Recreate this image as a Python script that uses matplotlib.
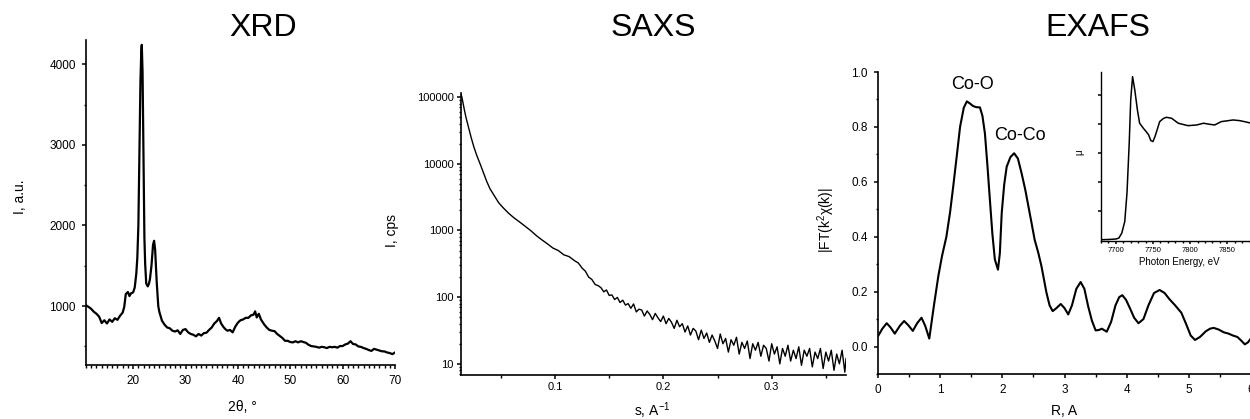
import matplotlib
matplotlib.use("Agg")
import matplotlib.pyplot as plt
from matplotlib.ticker import MultipleLocator, FixedLocator, FixedFormatter, NullFormatter, LogLocator

plt.rcParams['font.family'] = ['Liberation Sans', 'DejaVu Sans']
plt.rcParams['mathtext.default'] = 'regular'

# XRD pattern
xrd_2theta = [11.0, 11.5, 12.0, 12.5, 13.0, 13.5, 14.0, 14.5, 15.0, 15.5, 16.0, 16.5, 17.0, 17.5,
              18.0, 18.3, 18.6, 19.0, 19.3, 19.6, 20.0, 20.3, 20.6, 20.8, 21.0, 21.2, 21.4, 21.55,
              21.65, 21.8, 22.0, 22.15, 22.3, 22.5, 22.8, 23.0, 23.2, 23.5, 23.8, 24.0, 24.2, 24.5,
              24.8, 25.0, 25.5, 26.0, 26.5, 27.0, 27.5, 28.0, 28.5, 29.0, 29.5, 30.0, 30.5, 31.0,
              31.5, 32.0, 32.5, 33.0, 33.5, 34.0, 34.5, 35.0, 35.5, 36.0, 36.4, 36.8, 37.2, 37.6,
              38.0, 38.5, 39.0, 39.5, 40.0, 40.5, 41.0, 41.5, 42.0, 42.5, 43.0, 43.3, 43.6, 44.0,
              44.4, 45.0, 45.5, 46.0, 46.5, 47.0, 47.5, 48.0, 48.5, 49.0, 49.5, 50.0, 50.5, 51.0,
              51.5, 52.0, 52.5, 53.0, 53.5, 54.0, 54.5, 55.0, 55.5, 56.0, 56.5, 57.0, 57.5, 58.0,
              58.5, 59.0, 59.5, 60.0, 60.5, 61.0, 61.5, 62.0, 62.5, 63.0, 63.5, 64.0, 64.5, 65.0,
              65.5, 66.0, 66.5, 67.0, 67.5, 68.0, 68.5, 69.0, 69.5, 70.0]
xrd_int = [1010, 990, 965, 930, 905, 870, 790, 825, 785, 835, 805, 850, 830, 880,
           920, 990, 1150, 1175, 1125, 1160, 1170, 1230, 1400, 1600, 2000, 2900, 3800, 4150,
           4240, 3900, 2750, 1850, 1520, 1280, 1245, 1275, 1330, 1500, 1760, 1810, 1700, 1300,
           1000, 930, 820, 770, 735, 725, 695, 685, 700, 655, 705, 715, 675, 655,
           645, 625, 655, 635, 665, 670, 705, 735, 785, 815, 855, 785, 745, 715,
           695, 705, 675, 745, 795, 825, 835, 855, 855, 885, 895, 935, 860, 905,
           835, 775, 735, 705, 695, 690, 655, 630, 605, 570, 570, 555, 550, 565,
           550, 565, 555, 545, 520, 505, 500, 495, 485, 495, 490, 480, 495, 490,
           495, 485, 505, 505, 525, 535, 565, 530, 525, 500, 495, 480, 470, 455,
           445, 470, 460, 450, 440, 438, 425, 418, 405, 425]

# SAXS curve
saxs_s = [0.0132, 0.0140, 0.0150, 0.0165, 0.0180, 0.0200, 0.0225, 0.0250, 0.0280, 0.0310,
          0.0340, 0.0370, 0.0400, 0.0440, 0.0480, 0.0520, 0.0570, 0.0620, 0.0670, 0.0720,
          0.0780, 0.0830, 0.0880, 0.0930, 0.0980, 0.1030, 0.1080, 0.1130, 0.1180, 0.1215,
          0.1250, 0.1280, 0.1310, 0.1340, 0.1370, 0.1400,
          0.1425, 0.1450, 0.1475, 0.1500, 0.1525, 0.1550, 0.1575, 0.1600, 0.1625, 0.1650,
          0.1675, 0.1700, 0.1725, 0.1750, 0.1775, 0.1800, 0.1825, 0.1850, 0.1875, 0.1900,
          0.1925, 0.1950, 0.1975, 0.2000, 0.2025, 0.2050, 0.2075, 0.2100, 0.2125, 0.2150,
          0.2175, 0.2200, 0.2225, 0.2250, 0.2275, 0.2300, 0.2325, 0.2350, 0.2375, 0.2400,
          0.2425, 0.2450, 0.2475, 0.2500, 0.2525, 0.2550, 0.2575, 0.2600, 0.2625, 0.2650,
          0.2675, 0.2700, 0.2725, 0.2750, 0.2775, 0.2800, 0.2825, 0.2850, 0.2875, 0.2900,
          0.2925, 0.2950, 0.2975, 0.3000, 0.3025, 0.3050, 0.3075, 0.3100, 0.3125, 0.3150,
          0.3175, 0.3200, 0.3225, 0.3250, 0.3275, 0.3300, 0.3325, 0.3350, 0.3375, 0.3400,
          0.3425, 0.3450, 0.3475, 0.3500, 0.3525, 0.3550, 0.3575, 0.3600, 0.3625, 0.3650,
          0.3675, 0.3686]
saxs_int = [110000, 100000, 82000, 62000, 48000, 36000, 25000, 18000, 13000, 9800,
            7300, 5400, 4200, 3300, 2600, 2200, 1820, 1550, 1350, 1170,
            980, 830, 720, 630, 545, 500, 432, 405, 352, 325,
            272, 245, 200, 184, 155, 148,
            138, 120, 128, 106, 108, 92, 99, 83, 90, 76,
            80, 68, 79, 60, 66, 64, 52, 62, 55, 46,
            57, 49, 43, 52, 40, 48, 42, 34, 45, 36,
            40, 30, 37, 27, 34, 31, 23, 32, 24, 29,
            21, 27, 22, 17, 28, 20, 24, 15, 23, 19,
            25, 14, 21, 17, 22, 12, 20, 16, 21, 13,
            19, 17, 11, 20, 14, 18, 10, 17, 13, 19,
            11, 16, 12, 18, 9.5, 16, 13, 17, 9, 15,
            12, 17, 8.5, 15, 11, 16, 8, 14, 10, 16,
            7.5, 12]

# EXAFS Fourier transform
exafs_r = [0.0, 0.07, 0.14, 0.20, 0.27, 0.35, 0.42, 0.49, 0.56, 0.63, 0.70, 0.76, 0.825,
           0.90, 0.97, 1.03, 1.10, 1.16, 1.21, 1.27, 1.32, 1.38, 1.43, 1.48, 1.53, 1.58,
           1.64, 1.68, 1.72, 1.76, 1.80, 1.84, 1.88, 1.93, 1.96, 1.99, 2.03, 2.07, 2.13,
           2.19, 2.25, 2.31, 2.37, 2.42, 2.47, 2.52, 2.58, 2.63, 2.71, 2.76, 2.81, 2.87,
           2.94, 3.00, 3.06, 3.12, 3.19, 3.26, 3.32, 3.38, 3.44, 3.50, 3.55, 3.60, 3.68,
           3.75, 3.82, 3.88, 3.93, 3.99, 4.05, 4.12, 4.19, 4.27, 4.35, 4.44, 4.53, 4.61,
           4.69, 4.78, 4.88, 4.96, 5.03, 5.10, 5.18, 5.27, 5.34, 5.40, 5.48, 5.56, 5.64,
           5.71, 5.78, 5.85, 5.90, 5.95, 6.0]
exafs_ft = [0.038, 0.065, 0.085, 0.070, 0.047, 0.075, 0.093, 0.077, 0.057, 0.085, 0.105, 0.075, 0.029,
            0.150, 0.256, 0.330, 0.400, 0.490, 0.583, 0.700, 0.800, 0.870, 0.893, 0.885, 0.876, 0.872,
            0.871, 0.840, 0.776, 0.660, 0.534, 0.410, 0.317, 0.280, 0.340, 0.486, 0.590, 0.655, 0.690,
            0.704, 0.685, 0.631, 0.570, 0.510, 0.450, 0.389, 0.340, 0.292, 0.196, 0.150, 0.129, 0.140,
            0.155, 0.140, 0.117, 0.150, 0.210, 0.235, 0.210, 0.147, 0.095, 0.059, 0.060, 0.065, 0.054,
            0.090, 0.150, 0.180, 0.187, 0.170, 0.141, 0.105, 0.085, 0.100, 0.150, 0.195, 0.206, 0.195,
            0.172, 0.150, 0.123, 0.080, 0.040, 0.024, 0.035, 0.055, 0.065, 0.068, 0.062, 0.052, 0.047,
            0.040, 0.035, 0.020, 0.008, 0.015, 0.030]

# XANES inset
xanes_e = [7680, 7690, 7700, 7704, 7708, 7712, 7715, 7718, 7720, 7722.5, 7725.5, 7729, 7732,
           7737, 7741, 7744, 7747, 7750, 7753, 7759, 7764, 7768, 7775, 7784, 7797, 7809, 7818,
           7826, 7833, 7842, 7850, 7858, 7867, 7875, 7885, 7890]
xanes_mu = [0.006, 0.008, 0.012, 0.020, 0.063, 0.163, 0.410, 0.840, 1.210, 1.410, 1.295, 1.123, 1.009,
            0.966, 0.935, 0.910, 0.860, 0.851, 0.900, 1.023, 1.050, 1.060, 1.052, 1.009, 0.988, 0.994, 1.009,
            1.000, 0.994, 1.023, 1.030, 1.037, 1.031, 1.020, 1.005, 1.000]

W, H = 1250, 419
fig = plt.figure(figsize=(W / 100, H / 100), dpi=100)


def box(l, t, r, b):
    return [l / W, 1 - b / H, (r - l) / W, (b - t) / H]


def style(ax, size=8.5, major=3.2, minor=1.8, pad=3):
    for s in ['top', 'right']:
        ax.spines[s].set_visible(False)
    for s in ['left', 'bottom']:
        ax.spines[s].set_linewidth(1.2)
    ax.tick_params(which='major', direction='out', length=major, width=1.1, labelsize=size, pad=pad)
    ax.tick_params(which='minor', direction='out', length=minor, width=1.0)
    ax.patch.set_alpha(0)


# --- XRD ---
ax1 = fig.add_axes(box(86, 40, 395, 365))
ax1.plot(xrd_2theta, xrd_int, color='black', lw=1.6)
ax1.set_xlim(11, 70)
ax1.set_ylim(270, 4300)
ax1.xaxis.set_major_locator(MultipleLocator(10))
ax1.xaxis.set_minor_locator(MultipleLocator(1))
ax1.yaxis.set_major_locator(MultipleLocator(1000))
ax1.yaxis.set_minor_locator(MultipleLocator(500))
style(ax1, pad=4)
fig.text(263 / W, 1 - 28 / H, 'XRD', fontsize=23, ha='center', va='center')
fig.text(20 / W, 1 - 197 / H, 'I, a.u.', fontsize=10, rotation=90, ha='center', va='center')
fig.text(242 / W, 1 - 407 / H, '2θ, °', fontsize=10, ha='center', va='center')

# --- SAXS ---
ax2 = fig.add_axes(box(461, 93, 846, 375))
ax2.plot(saxs_s, saxs_int, color='black', lw=1.0)
ax2.set_yscale('log')
ax2.set_xlim(0.0132, 0.3686)
ax2.set_ylim(6.8, 1.15e5)
ax2.xaxis.set_major_locator(FixedLocator([0.1, 0.2, 0.3]))
ax2.xaxis.set_major_formatter(FixedFormatter(['0.1', '0.2', '0.3']))
ax2.xaxis.set_minor_locator(FixedLocator([0.05, 0.15, 0.25, 0.35]))
ax2.yaxis.set_major_locator(FixedLocator([10, 100, 1000, 10000, 100000]))
ax2.yaxis.set_major_formatter(FixedFormatter(['10', '100', '1000', '10000', '100000']))
ax2.yaxis.set_minor_locator(LogLocator(base=10, subs=range(2, 10)))
ax2.yaxis.set_minor_formatter(NullFormatter())
style(ax2, size=8, pad=2)
fig.text(653 / W, 1 - 28 / H, 'SAXS', fontsize=23, ha='center', va='center')
fig.text(392 / W, 1 - 230 / H, 'I, cps', fontsize=10, rotation=90, ha='center', va='center')
fig.text(652 / W, 1 - 411 / H, 's, A$^{-1}$', fontsize=10, ha='center', va='center')

# --- EXAFS ---
ax3 = fig.add_axes(box(878, 72, 1251, 374))
ax3.plot(exafs_r, exafs_ft, color='black', lw=1.5)
ax3.set_xlim(0, 6)
ax3.set_ylim(-0.1, 1.0)
ax3.xaxis.set_major_locator(MultipleLocator(1))
ax3.xaxis.set_minor_locator(MultipleLocator(0.5))
ax3.yaxis.set_major_locator(FixedLocator([0.0, 0.2, 0.4, 0.6, 0.8, 1.0]))
ax3.yaxis.set_major_formatter(FixedFormatter(['0.0', '0.2', '0.4', '0.6', '0.8', '1.0']))
ax3.yaxis.set_minor_locator(MultipleLocator(0.1))
style(ax3, pad=4)
ax3.text(1.52, 0.955, 'Co-O', fontsize=13, ha='center', va='center')
ax3.text(2.28, 0.77, 'Co-Co', fontsize=13, ha='center', va='center')
fig.text(1098 / W, 1 - 28 / H, 'EXAFS', fontsize=23, ha='center', va='center')
fig.text(826 / W, 1 - 220 / H, '|FT(k$^2$χ(k)|', fontsize=10, rotation=90, ha='center', va='center')
fig.text(1064 / W, 1 - 411 / H, 'R, A', fontsize=10, ha='center', va='center')

# --- XANES inset ---
ax4 = fig.add_axes(box(1101, 72, 1257, 241))
ax4.plot(xanes_e, xanes_mu, color='black', lw=1.1)
ax4.set_xlim(7680, 7890)
ax4.set_ylim(-0.005, 1.45)
ax4.xaxis.set_major_locator(MultipleLocator(50))
ax4.xaxis.set_minor_locator(MultipleLocator(10))
ax4.yaxis.set_major_locator(FixedLocator([0.25, 0.5, 0.75, 1.0, 1.25]))
ax4.yaxis.set_major_formatter(NullFormatter())
style(ax4, size=5.5, major=2.2, minor=1.2, pad=2)
ax4.spines['left'].set_linewidth(1.0)
ax4.spines['bottom'].set_linewidth(1.0)
ax4.set_xlabel('Photon Energy, eV', fontsize=7, labelpad=2)
fig.text(1079 / W, 1 - 152 / H, 'μ', fontsize=7, rotation=90, ha='center', va='center')

fig.savefig('out.png', dpi=100)
